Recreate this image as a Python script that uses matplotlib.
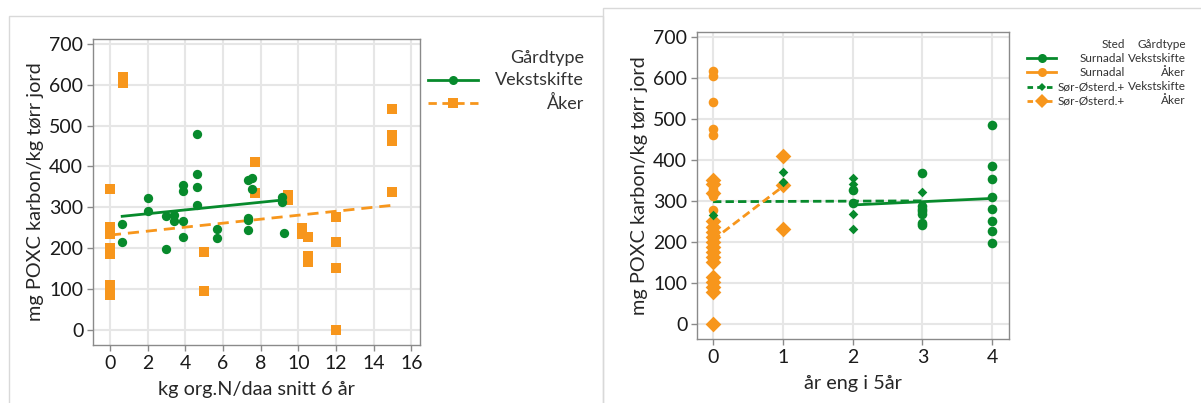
import matplotlib
matplotlib.use("Agg")
import matplotlib.pyplot as plt
from matplotlib.lines import Line2D
from matplotlib.patches import Rectangle

plt.rcParams["font.family"] = ["Lato", "DejaVu Sans"]

GREEN = "#078a2c"
ORANGE = "#f7961c"
GRID = "#e6e6e6"
SPINE = "#8a8a8a"

# ---------------------------------------------------------------------------
# Left panel: POXC vs organic N
# ---------------------------------------------------------------------------
vekst_n = [0.65, 0.65, 2, 2, 3, 3, 3.4, 3.4, 3.86, 3.86, 3.86, 3.86,
           4.63, 4.63, 4.63, 4.63, 5.68, 5.68, 7.33, 7.54, 7.54, 7.33,
           7.33, 7.33, 9.12, 9.12, 9.23]
vekst_poxc = [258, 214, 323, 291, 279, 197, 282, 266, 355, 339, 266, 228,
              480, 381, 350, 306, 246, 224, 367, 371, 344, 275,
              268, 244, 313, 325, 236]
aker_n = [0.67, 0.67, 0, 0, 0, 0, 0, 0, 0, 0, 5, 5, 7.68, 7.68, 9.44, 9.44,
          10.17, 10.17, 10.5, 10.5, 10.5, 12, 12, 12, 12, 15, 15, 15, 15]
aker_poxc = [605, 618, 345, 235, 252, 185, 200, 85, 100, 110, 191, 96, 410,
             334, 318, 330, 235, 250, 228, 165, 180, 276, 216, 152, 0, 541,
             478, 462, 338]

# fitted lines
vekst_fit_x = [0.65, 9.2]
vekst_fit_y = [278, 318]
aker_fit_x = [0, 15]
aker_fit_y = [232, 305]

# ---------------------------------------------------------------------------
# Right panel: POXC vs years of grass in 5 years
# ---------------------------------------------------------------------------
sur_vekst_ar = [2, 2, 3, 3, 3, 3, 3, 3, 3, 4, 4, 4, 4, 4, 4, 4, 4]
sur_vekst_poxc = [326, 295, 369, 287, 280, 275, 267, 245, 240,
                  484, 386, 354, 310, 280, 250, 226, 198]
sur_aker_ar = [0, 0, 0, 0, 0, 0, 0, 0, 0]
sur_aker_poxc = [618, 605, 541, 476, 460, 345, 330, 312, 277]
sor_vekst_ar = [0, 1, 1, 2, 2, 2, 2, 3]
sor_vekst_poxc = [265, 371, 346, 355, 342, 269, 232, 321]
sor_aker_ar = [0, 0, 0, 0, 0, 0, 0, 0, 0, 0, 0, 0, 0, 0, 0, 0, 0, 1, 1, 1]
sor_aker_poxc = [350, 340, 318, 250, 237, 224, 212, 200, 188, 176, 163, 151,
                 115, 102, 90, 78, 0, 410, 338, 232]

sur_vekst_fit_x = [2, 4]
sur_vekst_fit_y = [290, 306]
sor_vekst_fit_x = [0, 3]
sor_vekst_fit_y = [298, 300]
sor_aker_fit_x = [0, 1]
sor_aker_fit_y = [205, 335]

Y_LABEL = "mg POXC karbon/kg tørr jord"
W, H = 1201, 403


def style_axes(ax, xlim, xticks):
    ax.set_xlim(*xlim)
    ax.set_ylim(-37, 712)
    ax.set_xticks(xticks)
    ax.set_yticks(range(0, 701, 100))
    ax.grid(True, color=GRID, linewidth=1.5)
    ax.set_axisbelow(True)
    for sp in ax.spines.values():
        sp.set_color(SPINE)
        sp.set_linewidth(1.0)
    ax.tick_params(colors=SPINE, labelcolor="#1a1a1a", labelsize=14,
                   length=4, width=1, pad=3)
    ax.set_ylabel(Y_LABEL, fontsize=14.3, color="#262626", labelpad=4)


fig = plt.figure(figsize=(W / 100, H / 100), dpi=100)

# panel frames (screenshot borders)
fig.add_artist(Rectangle((9 / W, -0.05), 594 / W, 1.05 - 16 / H,
                         transform=fig.transFigure, fill=False,
                         edgecolor="#d9d9d9", linewidth=1))
fig.add_artist(Rectangle((603 / W, -0.05), 0.6, 1.05 - 8 / H,
                         transform=fig.transFigure, fill=False,
                         edgecolor="#d9d9d9", linewidth=1))

# left panel
ax1 = fig.add_axes([93 / W, 1 - 345 / H, 327 / W, 306 / H])
style_axes(ax1, (-0.9, 16.46), range(0, 17, 2))
ax1.plot(vekst_fit_x, vekst_fit_y, color=GREEN, linewidth=2)
ax1.plot(aker_fit_x, aker_fit_y, color=ORANGE, linewidth=2,
         linestyle=(0, (4, 2.5)))
ax1.scatter(aker_n, aker_poxc, marker="s", s=45, color=ORANGE,
            linewidths=0, zorder=3)
ax1.scatter(vekst_n, vekst_poxc, marker="o", s=45, color=GREEN,
            linewidths=0, zorder=3)
ax1.set_xlabel("kg org.N/daa snitt 6 år", fontsize=14.3, color="#262626",
               labelpad=7)

# left legend (manual, right aligned like the original)
fs_leg = 13
fig.text(584 / W, 1 - 58 / H, "Gårdtype", ha="right", va="center",
         fontsize=fs_leg, color="#333333")
leg_rows = [(80, GREEN, "-", "o", "Vekstskifte"),
            (103, ORANGE, (0, (3, 2)), "s", "Åker")]
for ypx, col, ls, mk, label in leg_rows:
    y = 1 - ypx / H
    fig.add_artist(Line2D([428 / W, 478 / W], [y, y],
                          transform=fig.transFigure, color=col,
                          linewidth=2, linestyle=ls))
    fig.add_artist(Line2D([453 / W], [y], transform=fig.transFigure,
                          color=col, marker=mk, markersize=6.5,
                          markeredgewidth=0, linestyle="none"))
    fig.text(584 / W, y, label, ha="right", va="center",
             fontsize=fs_leg, color="#333333")

# right panel
ax2 = fig.add_axes([697 / W, 1 - 339 / H, 312 / W, 307 / H])
style_axes(ax2, (-0.23, 4.24), range(0, 5))
ax2.plot(sor_vekst_fit_x, sor_vekst_fit_y, color=GREEN, linewidth=2,
         linestyle=(0, (3, 1.5)), zorder=2)
ax2.plot(sur_vekst_fit_x, sur_vekst_fit_y, color=GREEN, linewidth=2,
         zorder=2)
ax2.plot(sor_aker_fit_x, sor_aker_fit_y, color=ORANGE, linewidth=2,
         linestyle=(0, (3, 1.5)), zorder=2)
ax2.scatter(sor_aker_ar, sor_aker_poxc, marker="D", s=64, color=ORANGE,
            linewidths=0, zorder=3)
ax2.scatter(sur_aker_ar, sur_aker_poxc, marker="o", s=48, color=ORANGE,
            linewidths=0, zorder=3)
ax2.scatter(sor_vekst_ar, sor_vekst_poxc, marker="D", s=24, color=GREEN,
            linewidths=0, zorder=4)
ax2.scatter(sur_vekst_ar, sur_vekst_poxc, marker="o", s=48, color=GREEN,
            linewidths=0, zorder=4)
ax2.set_xlabel("år eng i 5år", fontsize=14.3, color="#262626", labelpad=7)

# right legend (two right-aligned text columns)
fs_small = 8.5
col1_x, col2_x = 1125 / W, 1186 / W
fig.text(col1_x, 1 - 44 / H, "Sted", ha="right", va="center",
         fontsize=fs_small, color="#333333")
fig.text(col2_x, 1 - 44 / H, "Gårdtype", ha="right", va="center",
         fontsize=fs_small, color="#333333")
rows2 = [(58, GREEN, "-", "o", 6.5, "Surnadal", "Vekstskifte"),
         (72, ORANGE, "-", "o", 6.5, "Surnadal", "Åker"),
         (87, GREEN, (0, (2, 1.5)), "D", 4.5, "Sør-Østerd.+", "Vekstskifte"),
         (101, ORANGE, (0, (2, 1.5)), "D", 7.5, "Sør-Østerd.+", "Åker")]
for ypx, col, ls, mk, ms, sted, gard in rows2:
    y = 1 - ypx / H
    fig.add_artist(Line2D([1027 / W, 1056 / W], [y, y],
                          transform=fig.transFigure, color=col,
                          linewidth=2, linestyle=ls))
    fig.add_artist(Line2D([1041.5 / W], [y], transform=fig.transFigure,
                          color=col, marker=mk, markersize=ms,
                          markeredgewidth=0, linestyle="none"))
    fig.text(col1_x, y, sted, ha="right", va="center",
             fontsize=fs_small, color="#333333")
    fig.text(col2_x, y, gard, ha="right", va="center",
             fontsize=fs_small, color="#333333")

fig.savefig("out.png", dpi=100)
